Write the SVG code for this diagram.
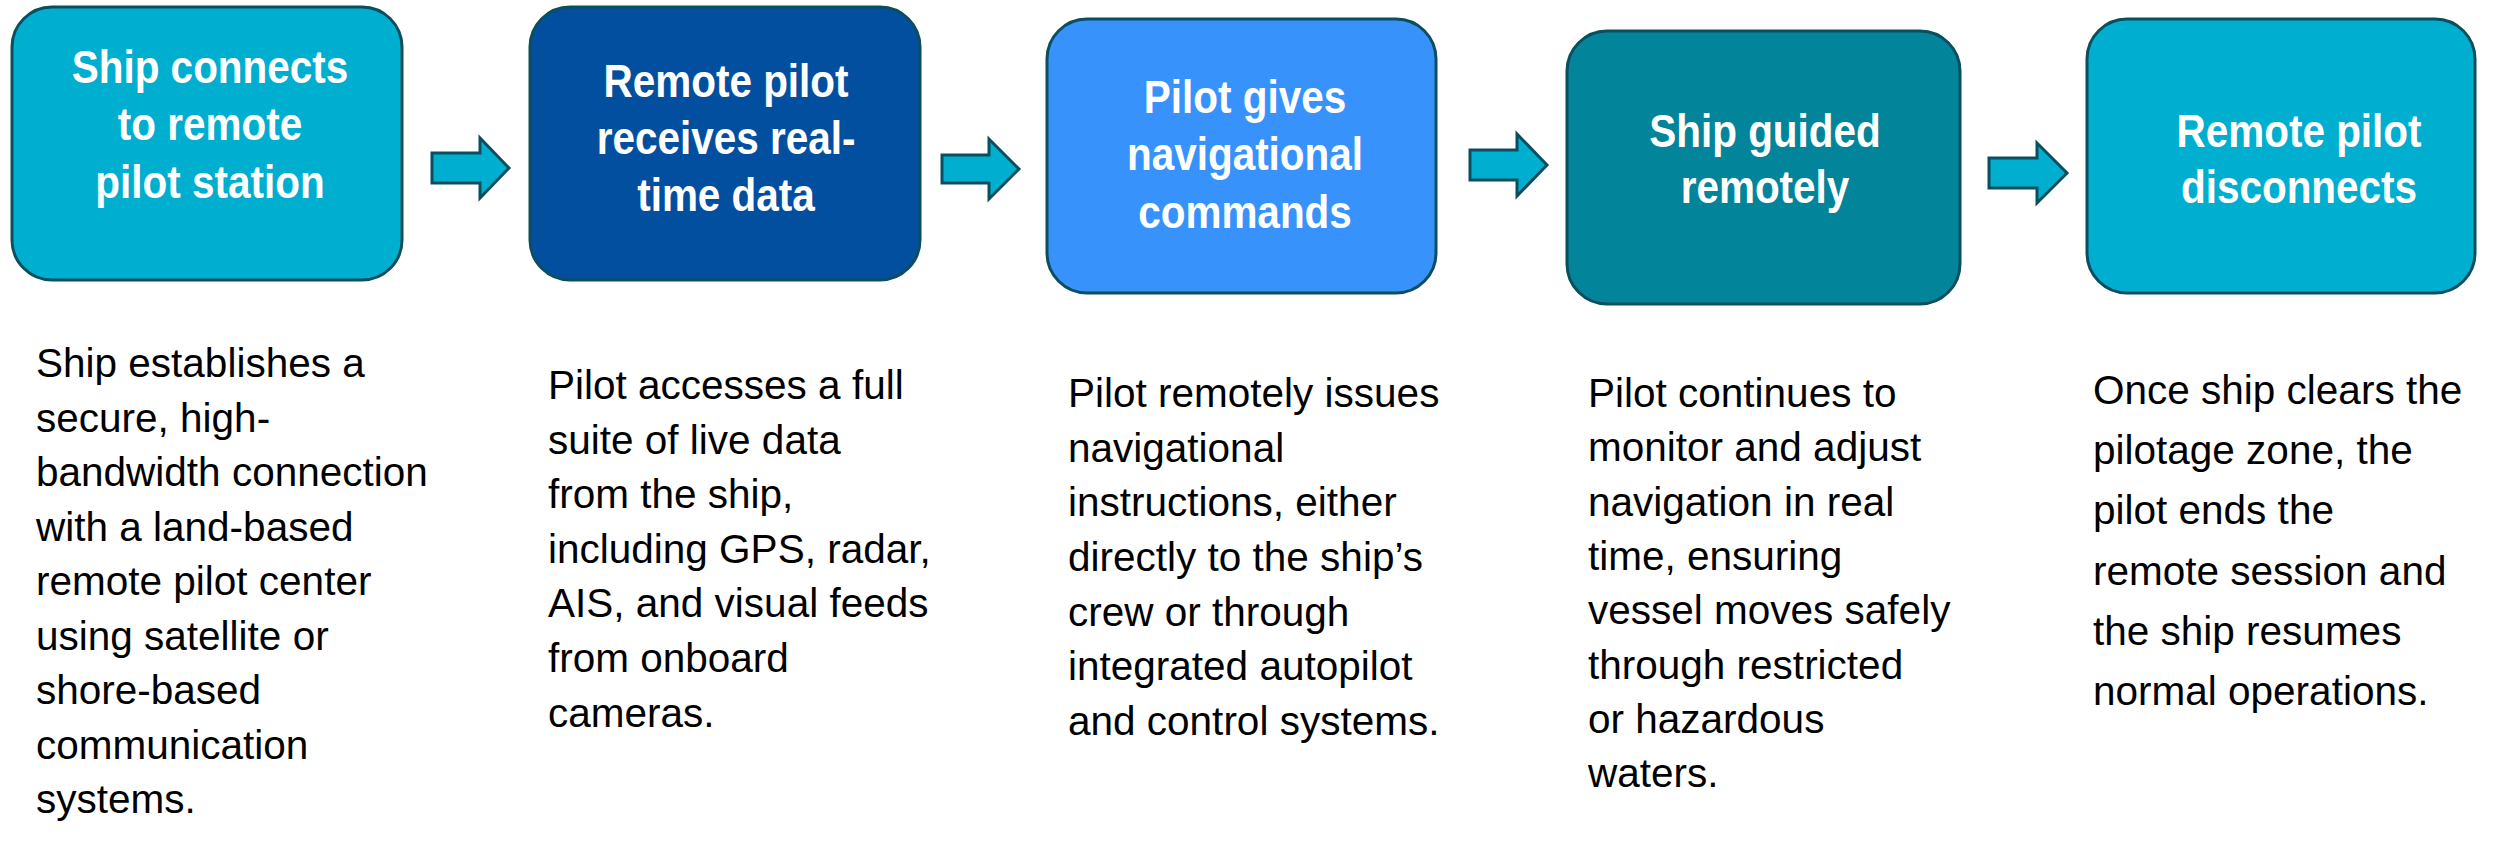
<svg xmlns="http://www.w3.org/2000/svg" width="2494" height="853" viewBox="0 0 2494 853">
<style>
.box{stroke:#0b4e5e;stroke-width:3}
.arrow{fill:#00aecf;stroke:#0b4e5e;stroke-width:3;stroke-linejoin:miter}
.title{font-family:"Liberation Sans",Arial,sans-serif;font-weight:bold;font-size:46px;fill:#ffffff;text-anchor:middle}
.body{font-family:"Liberation Sans",Arial,sans-serif;font-size:40.5px;fill:#000000}
</style>
<rect width="2494" height="853" fill="#ffffff"/>
<g id="connectors">
<polygon class="arrow" points="432,153 480,153 480,138 509,168 480,198 480,183 432,183"/>
<polygon class="arrow" points="942,155 989,155 989,139 1019,169 989,199 989,183 942,183"/>
<polygon class="arrow" points="1470,150 1517,150 1517,134 1547,165 1517,196 1517,180 1470,180"/>
<polygon class="arrow" points="1989,158 2037,158 2037,143 2067,173 2037,203 2037,188 1989,188"/>
</g>
<g id="node1">
<rect class="box" x="12" y="7" width="390" height="273" rx="40" fill="#00aecf"/>
<text class="title" transform="translate(210 0) scale(0.88 1)"><tspan x="0" y="83">Ship connects</tspan><tspan x="0" y="140">to remote</tspan><tspan x="0" y="198">pilot station</tspan></text>
</g>
<g id="node2">
<rect class="box" x="530" y="7" width="390" height="273" rx="40" fill="#034f9f"/>
<text class="title" transform="translate(726 0) scale(0.88 1)"><tspan x="0" y="97">Remote pilot</tspan><tspan x="0" y="154">receives real-</tspan><tspan x="0" y="211">time data</tspan></text>
</g>
<g id="node3">
<rect class="box" x="1047" y="19" width="389" height="274" rx="40" fill="#3792fc"/>
<text class="title" transform="translate(1245 0) scale(0.88 1)"><tspan x="0" y="113">Pilot gives</tspan><tspan x="0" y="170">navigational</tspan><tspan x="0" y="228">commands</tspan></text>
</g>
<g id="node4">
<rect class="box" x="1567" y="31" width="393" height="273" rx="40" fill="#02849a"/>
<text class="title" transform="translate(1765 0) scale(0.88 1)"><tspan x="0" y="147">Ship guided</tspan><tspan x="0" y="203">remotely</tspan></text>
</g>
<g id="node5">
<rect class="box" x="2087" y="19" width="388" height="274" rx="40" fill="#00aecf"/>
<text class="title" transform="translate(2299 0) scale(0.88 1)"><tspan x="0" y="147">Remote pilot</tspan><tspan x="0" y="203">disconnects</tspan></text>
</g>
<g id="desc1">
<text class="body"><tspan x="36" y="377">Ship establishes a</tspan><tspan x="36" y="432">secure, high-</tspan><tspan x="36" y="486">bandwidth connection</tspan><tspan x="36" y="541">with a land-based</tspan><tspan x="36" y="595">remote pilot center</tspan><tspan x="36" y="650">using satellite or</tspan><tspan x="36" y="704">shore-based</tspan><tspan x="36" y="759">communication</tspan><tspan x="36" y="813">systems.</tspan></text>
</g>
<g id="desc2">
<text class="body"><tspan x="548" y="399">Pilot accesses a full</tspan><tspan x="548" y="454">suite of live data</tspan><tspan x="548" y="508">from the ship,</tspan><tspan x="548" y="563">including GPS, radar,</tspan><tspan x="548" y="617">AIS, and visual feeds</tspan><tspan x="548" y="672">from onboard</tspan><tspan x="548" y="727">cameras.</tspan></text>
</g>
<g id="desc3">
<text class="body"><tspan x="1068" y="407">Pilot remotely issues</tspan><tspan x="1068" y="462">navigational</tspan><tspan x="1068" y="516">instructions, either</tspan><tspan x="1068" y="571">directly to the ship’s</tspan><tspan x="1068" y="626">crew or through</tspan><tspan x="1068" y="680">integrated autopilot</tspan><tspan x="1068" y="735">and control systems.</tspan></text>
</g>
<g id="desc4">
<text class="body"><tspan x="1588" y="407">Pilot continues to</tspan><tspan x="1588" y="461">monitor and adjust</tspan><tspan x="1588" y="516">navigation in real</tspan><tspan x="1588" y="570">time, ensuring</tspan><tspan x="1588" y="624">vessel moves safely</tspan><tspan x="1588" y="679">through restricted</tspan><tspan x="1588" y="733">or hazardous</tspan><tspan x="1588" y="787">waters.</tspan></text>
</g>
<g id="desc5">
<text class="body"><tspan x="2093" y="404">Once ship clears the</tspan><tspan x="2093" y="464">pilotage zone, the</tspan><tspan x="2093" y="524">pilot ends the</tspan><tspan x="2093" y="585">remote session and</tspan><tspan x="2093" y="645">the ship resumes</tspan><tspan x="2093" y="705">normal operations.</tspan></text>
</g>
</svg>
